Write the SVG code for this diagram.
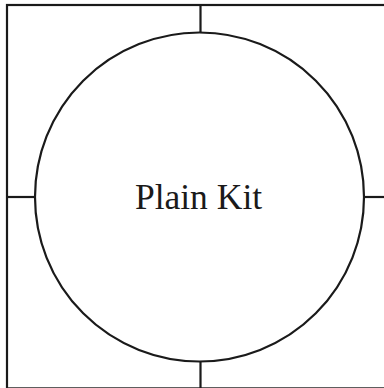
<svg xmlns="http://www.w3.org/2000/svg" width="384" height="388" viewBox="0 0 384 388">
<style>
.ln{stroke:#1a1a1a;stroke-width:2.2;fill:none}
.lbl{font-family:"Liberation Serif",serif;font-size:35.5px;fill:#1a1a1a;text-anchor:middle}
</style>
<rect width="384" height="388" fill="#fff"/>
<g id="frame">
<rect class="ln" x="7" y="5" width="384" height="383.4"/>
</g>
<g id="connectors">
<line class="ln" x1="200.5" y1="5" x2="200.5" y2="32"/>
<line class="ln" x1="200.5" y1="362" x2="200.5" y2="388"/>
<line class="ln" x1="7" y1="197" x2="35" y2="197"/>
<line class="ln" x1="364" y1="197" x2="384" y2="197"/>
</g>
<g id="node-plain-kit">
<circle class="ln" cx="199.5" cy="197" r="164.5"/>
<text class="lbl" x="198.5" y="209">Plain Kit</text>
</g>
</svg>
